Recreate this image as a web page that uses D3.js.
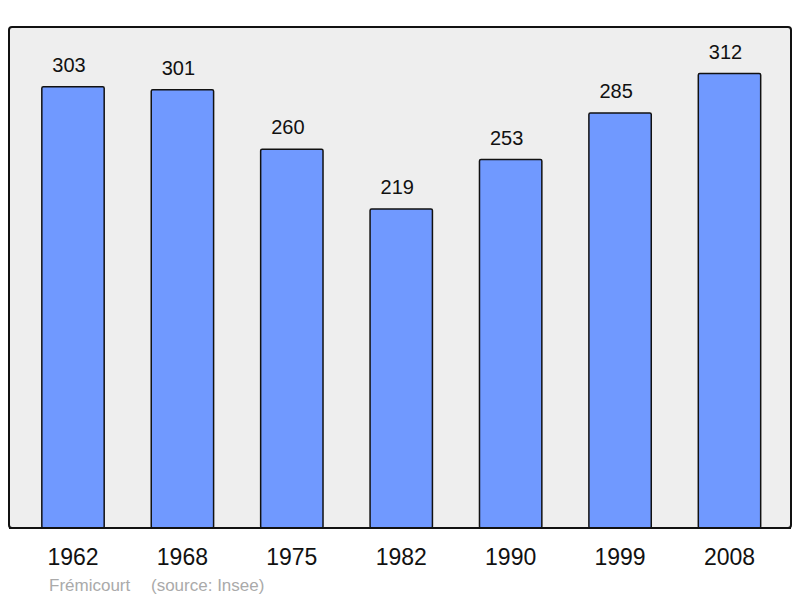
<!DOCTYPE html>
<html>
<head>
<meta charset="utf-8">
<script src="https://d3js.org/d3.v7.min.js"></script>
<style>
  body { margin: 0; background: #fff; }
  svg { display: block; font-family: "Liberation Sans", Arial, sans-serif; }
</style>
</head>
<body>
<svg id="chart" width="800" height="598"></svg>
<script>
// population by census year
var years = ["1962", "1968", "1975", "1982", "1990", "1999", "2008"]
var population = [303, 301, 260, 219, 253, 285, 312]
var commune = "Frémicourt"
var source = "(source: Insee)"

var dimensions = {
        width: 800,
        height: 598,
        panel: { left: 9, right: 791, top: 27, bottom: 528 }
}

var svg = d3.select("#chart")

// grey background panel
svg.append("rect")
        .attr("x", dimensions.panel.left)
        .attr("y", dimensions.panel.top)
        .attr("width", dimensions.panel.right - dimensions.panel.left)
        .attr("height", dimensions.panel.bottom - dimensions.panel.top)
        .attr("rx", 3)
        .style("fill", "#eeeeee")
        .style("stroke", "#111")
        .style("stroke-width", 2)

var xScale = d3.scaleBand()
        .domain(years)
        .range([18.3, 784.2])
        .paddingInner(0.43)
        .paddingOuter(0.215)

var yScale = d3.scaleLinear()
        .domain([0, 344])
        .range([dimensions.panel.bottom, dimensions.panel.top])

var data = years.map(function (y, i) { return { year: y, value: population[i] } })

svg.selectAll(".bar")
        .data(data)
        .enter()
        .append("rect")
        .attr("class", "bar")
        .attr("x", function (d) { return xScale(d.year) })
        .attr("width", xScale.bandwidth())
        .attr("y", function (d) { return yScale(d.value) })
        .attr("height", function (d) { return dimensions.panel.bottom - yScale(d.value) })
        .attr("rx", 1.5)
        .style("fill", "#7099ff")
        .style("stroke", "#111")
        .style("stroke-width", 1.5)

// value labels above bars (sit a little left of centre in the original)
svg.selectAll(".value")
        .data(data)
        .enter()
        .append("text")
        .attr("class", "value")
        .attr("x", function (d) { return xScale(d.year) + xScale.bandwidth() / 2 - 4 })
        .attr("y", function (d) { return yScale(d.value) - 15 })
        .attr("text-anchor", "middle")
        .style("font-size", "20px")
        .style("fill", "#111")
        .text(function (d) { return d.value })

// redraw panel border on top of bar bottoms
svg.append("line")
        .attr("x1", dimensions.panel.left)
        .attr("x2", dimensions.panel.right)
        .attr("y1", dimensions.panel.bottom)
        .attr("y2", dimensions.panel.bottom)
        .style("stroke", "#111")
        .style("stroke-width", 2)

// year labels
svg.selectAll(".year")
        .data(data)
        .enter()
        .append("text")
        .attr("class", "year")
        .attr("x", function (d) { return xScale(d.year) + xScale.bandwidth() / 2 })
        .attr("y", 565)
        .attr("text-anchor", "middle")
        .style("font-size", "23px")
        .style("fill", "#111")
        .text(function (d) { return d.year })

svg.append("text")
        .attr("x", 49)
        .attr("y", 590.5)
        .style("font-size", "17px")
        .style("fill", "#aaaaaa")
        .text(commune)

svg.append("text")
        .attr("x", 151)
        .attr("y", 590.5)
        .style("font-size", "17px")
        .style("fill", "#aaaaaa")
        .text(source)
</script>
</body>
</html>
